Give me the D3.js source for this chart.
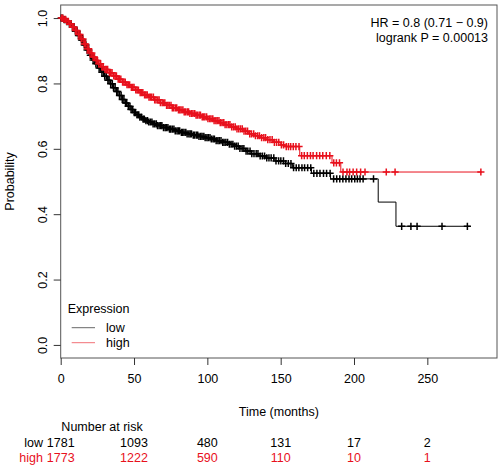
<!DOCTYPE html>
<html><head><meta charset="utf-8">
<script src="https://cdn.jsdelivr.net/npm/d3@7"></script>
<style>
body{margin:0;background:#fff;}
text{font-family:"Liberation Sans",Arial,Helvetica,sans-serif;font-size:12.5px;fill:#000;}
</style></head>
<body><svg id="c" width="500" height="465"></svg>
<script>
// ---- data ----
const xTicks = [0, 50, 100, 150, 200, 250];
const yTicks = [0.0, 0.2, 0.4, 0.6, 0.8, 1.0];
const groups = ["low", "high"];
const riskLow = [1781, 1093, 480, 131, 17, 2];
const riskHigh = [1773, 1222, 590, 110, 10, 1];
const hrText = ["HR = 0.8 (0.71 \u2212 0.9)", "logrank P = 0.00013"];

// step-curve knots [time (months), survival]
const lowKnots = [[0,1.0],[2,0.995],[4,0.989],[6,0.982],[8,0.972],[10,0.96],[12,0.947],[14,0.933],[16,0.918],[18,0.902],[20,0.886],[22,0.872],[24,0.86],[26,0.847],[28,0.834],[30,0.822],[32,0.81],[34,0.799],[36,0.787],[38,0.775],[40,0.763],[42,0.751],[44,0.74],[46,0.73],[48,0.72],[50,0.711],[52,0.704],[54,0.697],[56,0.691],[58,0.686],[60,0.682],[63,0.676],[66,0.671],[70,0.665],[74,0.66],[78,0.655],[82,0.65],[86,0.646],[90,0.642],[94,0.638],[98,0.634],[102,0.63],[106,0.625],[110,0.62],[114,0.614],[118,0.608],[122,0.601],[126,0.593],[130,0.585],[135,0.578],[140,0.572],[146,0.563],[152,0.555],[158,0.542],[171,0.525],[184,0.508],[216.5,0.437],[228.6,0.363]];
const highKnots = [[0,1.0],[2,0.996],[4,0.99],[6,0.982],[8,0.973],[10,0.962],[12,0.95],[14,0.936],[16,0.921],[18,0.906],[20,0.893],[22,0.881],[24,0.87],[26,0.86],[28,0.851],[30,0.843],[33,0.833],[36,0.823],[39,0.813],[42,0.804],[45,0.796],[48,0.788],[51,0.78],[54,0.772],[57,0.765],[60,0.758],[64,0.75],[68,0.741],[72,0.733],[76,0.725],[80,0.719],[84,0.713],[88,0.708],[92,0.703],[96,0.698],[100,0.692],[104,0.686],[108,0.68],[112,0.674],[116,0.667],[120,0.661],[124,0.654],[128,0.646],[132,0.64],[136,0.634],[140,0.628],[145,0.62],[150,0.612],[153,0.607],[163,0.579],[185,0.557],[191,0.529]];

// censoring times (months)
const lowCensor = [0.4,1.3,2.4,3.2,4.1,5.1,6.0,7.2,8.0,9.1,10.0,11.2,12.1,13.0,14.2,15.0,16.1,17.2,18.0,19.1,20.2,21.0,22.1,23.2,24.0,25.1,26.2,27.0,28.1,29.2,30.0,31.1,32.2,33.0,34.1,35.2,36.0,37.1,38.2,39.0,40.1,41.2,42.0,43.1,44.2,45.0,46.1,47.2,48.0,49.1,50.2,51.0,52.1,53.2,54.0,55.1,56.2,57.0,58.1,59.2,60.0,61.1,62.2,63.0,64.1,65.2,66.0,67.1,68.2,69.0,70.1,71.2,72.0,73.1,74.2,75.0,76.1,77.2,78.1,79.3,80.2,81.1,82.3,83.2,84.1,85.3,86.2,87.4,88.3,89.2,90.4,91.3,92.5,93.4,94.3,95.5,96.4,97.6,98.5,99.7,100.6,101.8,102.7,103.9,104.8,106.0,107.2,108.1,109.3,110.5,111.4,112.6,113.8,115.0,116.2,117.4,118.6,119.8,121.0,122.2,123.7,124.9,126.4,127.6,129.1,130.3,131.8,133.3,134.5,136.0,137.5,139.0,140.5,142.0,143.5,145.3,146.8,148.6,150.1,151.9,153.4,155.2,157.0,158.8,160.6,162.4,164.5,166.3,168.4,170.5,172.6,174.7,176.8,179.2,181.3,183.7,186.1,188.2,190.3,192.4,194.5,196.6,198.4,200.5,202.3,204.1,206.2,213.3,232.5,238.8,243.0,260.0,277.3];
const highCensor = [0.5,1.4,2.3,3.3,4.2,5.2,6.1,7.0,8.1,9.0,10.1,11.0,12.2,13.1,14.0,15.2,16.1,17.0,18.2,19.1,20.0,21.2,22.1,23.0,24.2,25.1,26.0,27.2,28.1,29.0,30.2,31.1,32.0,33.2,34.1,35.0,36.2,37.1,38.0,39.2,40.1,41.0,42.2,43.1,44.0,45.2,46.1,47.0,48.2,49.1,50.0,51.2,52.1,53.0,54.2,55.1,56.0,57.2,58.1,59.0,60.2,61.1,62.0,63.2,64.1,65.0,66.2,67.1,68.0,69.2,70.1,71.0,72.2,73.1,74.0,75.2,76.1,77.0,78.2,79.1,80.3,81.2,82.1,83.3,84.2,85.1,86.3,87.2,88.1,89.3,90.2,91.4,92.3,93.2,94.4,95.3,96.5,97.4,98.3,99.5,100.4,101.6,102.5,103.7,104.6,105.8,106.7,107.9,108.8,110.0,111.2,112.1,113.3,114.5,115.4,116.6,117.8,119.0,120.2,121.4,122.6,123.8,125.0,126.2,127.4,128.9,130.1,131.6,132.8,134.3,135.5,137.0,138.5,139.7,141.2,142.7,144.2,145.7,147.2,148.7,150.5,152.0,153.8,155.3,156.8,158.6,160.4,162.5,164.3,166.1,168.2,170.3,172.1,174.5,176.6,178.7,181.1,183.5,186.2,188.0,190.1,192.5,195.2,197.0,199.4,201.8,204.5,207.5,222.0,228.0,286.5];
const lowEnd = 279;
const highEnd = 287;

// ---- drawing ----
const colors = {low: "#000000", high: "#e8101c"};
const svg = d3.select("#c");
const L = 60.7, R = 497, T = 5, B = 358;
const x = d3.scaleLinear().domain([0, 297.5]).range([L, R]);
const y = d3.scaleLinear().domain([-0.04, 1.04]).range([B, T]);

// box
svg.append("rect").attr("x", L).attr("y", T).attr("width", R - L).attr("height", B - T)
  .attr("fill", "none").attr("stroke", "#555").attr("stroke-width", 1);

// axes
const xAxis = d3.axisBottom(x).tickValues(xTicks).tickSize(7).tickPadding(9).tickFormat(d3.format("d"));
const gx = svg.append("g").attr("transform", `translate(0,${B})`).call(xAxis);
gx.select(".domain").remove();
gx.selectAll("line").attr("stroke", "#333");
gx.selectAll("text").style("font-size", "12.5px").attr("fill", "#000");

const yAxis = d3.axisLeft(y).tickValues(yTicks).tickSize(7).tickFormat(d3.format(".1f"));
const gy = svg.append("g").attr("transform", `translate(${L},0)`).call(yAxis);
gy.select(".domain").remove();
gy.selectAll("line").attr("stroke", "#333");
gy.selectAll("text").attr("x", null).attr("dy", null)
  .attr("text-anchor", "middle")
  .attr("transform", "translate(-18,0) rotate(-90)")
  .attr("dy", "0.35em").attr("fill", "#000").style("font-size", "12.5px");

svg.append("text").attr("transform", `translate(14,${(T + B) / 2}) rotate(-90)`)
  .attr("text-anchor", "middle").text("Probability");
svg.append("text").attr("x", (L + R) / 2).attr("y", 412).attr("dy", "0.35em")
  .attr("text-anchor", "middle").text("Time (months)");

// curves
function stepVal(knots, t) {
  let v = knots[0][1];
  for (const k of knots) { if (k[0] <= t) v = k[1]; else break; }
  return v;
}
function drawCurve(knots, censor, end, col) {
  const pts = knots.concat([[end, knots[knots.length - 1][1]]]);
  const line = d3.line().x(d => x(d[0])).y(d => y(d[1])).curve(d3.curveStepAfter);
  svg.append("path").attr("d", line(pts)).attr("fill", "none")
    .attr("stroke", col).attr("stroke-width", 1);
  const g = svg.append("g").attr("stroke", col).attr("stroke-width", 1.5);
  const h = 3.6;
  g.selectAll("path").data(censor).join("path")
    .attr("d", t => {
      const cx = x(t), cy = y(stepVal(knots, t));
      return `M${cx - h},${cy}H${cx + h}M${cx},${cy - h}V${cy + h}`;
    });
}
drawCurve(lowKnots, lowCensor, lowEnd, colors.low);
drawCurve(highKnots, highCensor, highEnd, colors.high);

// HR text
hrText.forEach((s, i) => {
  svg.append("text").attr("x", 488).attr("y", 22.7 + i * 14.6).attr("dy", "0.35em")
    .attr("text-anchor", "end").text(s);
});

// legend
svg.append("text").attr("x", 67.7).attr("y", 309).attr("dy", "0.35em").text("Expression");
groups.forEach((gname, i) => {
  const yy = 327.7 + i * 15;
  svg.append("line").attr("x1", 71.7).attr("x2", 95).attr("y1", yy).attr("y2", yy)
    .attr("stroke", colors[gname]).attr("stroke-width", 0.8).attr("opacity", 0.75);
  svg.append("text").attr("x", 106).attr("y", yy).attr("dy", "0.35em").text(gname);
});

// number at risk
svg.append("text").attr("x", 102).attr("y", 426.7).attr("dy", "0.35em")
  .attr("text-anchor", "middle").text("Number at risk");
[[riskLow, "low", 442.3], [riskHigh, "high", 457.3]].forEach(([vals, name, yy]) => {
  svg.append("text").attr("x", 43).attr("y", yy).attr("dy", "0.35em")
    .attr("text-anchor", "end").style("fill", colors[name]).text(name);
  svg.selectAll(null).data(vals).join("text")
    .attr("x", (d, i) => x(xTicks[i])).attr("y", yy).attr("dy", "0.35em")
    .attr("text-anchor", "middle").style("fill", colors[name]).text(d => d);
});
</script></body></html>
